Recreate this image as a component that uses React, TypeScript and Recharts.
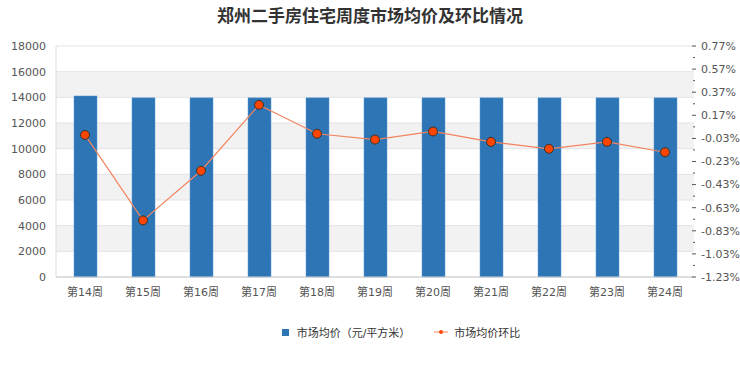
import React from "react";
import {
  ComposedChart,
  Bar,
  Line,
  XAxis,
  YAxis,
  CartesianGrid,
  Legend,
} from "recharts";

const weeks = ["第14周", "第15周", "第16周", "第17周", "第18周", "第19周", "第20周", "第21周", "第22周", "第23周", "第24周"];
const avgPrice = [14110, 13960, 13960, 13960, 13960, 13960, 13960, 13960, 13960, 13960, 13960];
const momChange = [0.0, -0.74, -0.31, 0.26, 0.01, -0.04, 0.03, -0.06, -0.12, -0.06, -0.15];

const leftTicks = [0, 2000, 4000, 6000, 8000, 10000, 12000, 14000, 16000, 18000];
// right axis: majors every 0.2%, minors in between
const rightTicks = Array.from({ length: 21 }, (_, i) => Math.round((-1.23 + i * 0.1) * 100) / 100);

const FONT = '"DejaVu Sans", "Noto Sans CJK SC", sans-serif';
const BAR_COLOR = "#2e75b6";
const LINE_COLOR = "#f4845f";
const DOT_COLOR = "#ff4500";

const data = weeks.map((w, i) => ({ week: w, price: avgPrice[i], mom: momChange[i] }));

const RightTick = (props: any) => {
  const { x, y, payload, index } = props;
  const major = index % 2 === 0;
  return (
    <g>
      <line
        x1={x - (major ? 9 : 8)}
        x2={x - (major ? 5 : 6)}
        y1={y}
        y2={y}
        stroke="#555"
        strokeWidth={1}
      />
      {major && (
        <text x={x} y={y} dy="0.35em" textAnchor="start" fill="#555" fontSize={11} fontFamily={FONT}>
          {payload.value.toFixed(2) + "%"}
        </text>
      )}
    </g>
  );
};

const LegendContent = () => (
  <div
    style={{
      height: 20,
      display: "flex",
      justifyContent: "center",
      alignItems: "center",
      fontSize: 11,
      fontFamily: FONT,
      color: "#333",
      paddingLeft: 62,
    }}
  >
    <span style={{ display: "inline-block", width: 7, height: 7, background: BAR_COLOR, marginRight: 8 }} />
    <span style={{ marginRight: 24 }}>市场均价（元/平方米）</span>
    <svg width={14} height={8} style={{ marginRight: 6 }}>
      <line x1={0} x2={14} y1={4} y2={4} stroke={LINE_COLOR} strokeWidth={1} />
      <circle cx={7} cy={4} r={2} fill={DOT_COLOR} />
    </svg>
    <span>市场均价环比</span>
  </div>
);

export default function App() {
  return (
    <div style={{ position: "absolute", left: 0, top: 0, width: 740, height: 370, background: "#fff" }}>
      <div
        style={{
          position: "absolute",
          top: 2,
          left: 0,
          width: 740,
          textAlign: "center",
          fontSize: 17,
          fontWeight: "bold",
          color: "#333",
          fontFamily: FONT,
        }}
      >
        郑州二手房住宅周度市场均价及环比情况
      </div>
      <ComposedChart
        width={740}
        height={370}
        data={data}
        margin={{ top: 46, right: 0, bottom: 28, left: 0 }}
        barCategoryGap={0}
      >
        <CartesianGrid
          yAxisId="left"
          vertical={false}
          stroke="#e3e3e3"
          horizontalFill={["#ffffff", "#f2f2f2"]}
          fillOpacity={1}
        />
        <XAxis
          dataKey="week"
          height={45}
          tickLine={false}
          tickSize={0}
          tickMargin={11}
          axisLine={{ stroke: "#cccccc" }}
          tick={{ fontSize: 11, fill: "#555", fontFamily: FONT }}
          interval={0}
        />
        <YAxis
          yAxisId="left"
          width={56}
          domain={[0, 18000]}
          ticks={leftTicks}
          tickLine={false}
          tickSize={0}
          tickMargin={10}
          axisLine={{ stroke: "#dddddd" }}
          tick={{ fontSize: 11, fill: "#555", fontFamily: FONT }}
          interval={0}
        />
        <YAxis
          yAxisId="right"
          orientation="right"
          width={46}
          domain={[-1.23, 0.77]}
          ticks={rightTicks}
          tickLine={false}
          tickSize={0}
          tickMargin={7}
          axisLine={false}
          tick={<RightTick />}
          interval={0}
        />
        <Legend verticalAlign="bottom" content={<LegendContent />} />
        <Bar
          yAxisId="left"
          dataKey="price"
          name="市场均价（元/平方米）"
          fill={BAR_COLOR}
          stroke="#5b9bd5"
          strokeWidth={0.5}
          barSize={23}
          isAnimationActive={false}
        />
        <Line
          yAxisId="right"
          dataKey="mom"
          name="市场均价环比"
          stroke={LINE_COLOR}
          strokeWidth={1.2}
          dot={{ r: 4.5, fill: DOT_COLOR, stroke: "#333", strokeWidth: 1 }}
          activeDot={false}
          isAnimationActive={false}
        />
      </ComposedChart>
    </div>
  );
}
